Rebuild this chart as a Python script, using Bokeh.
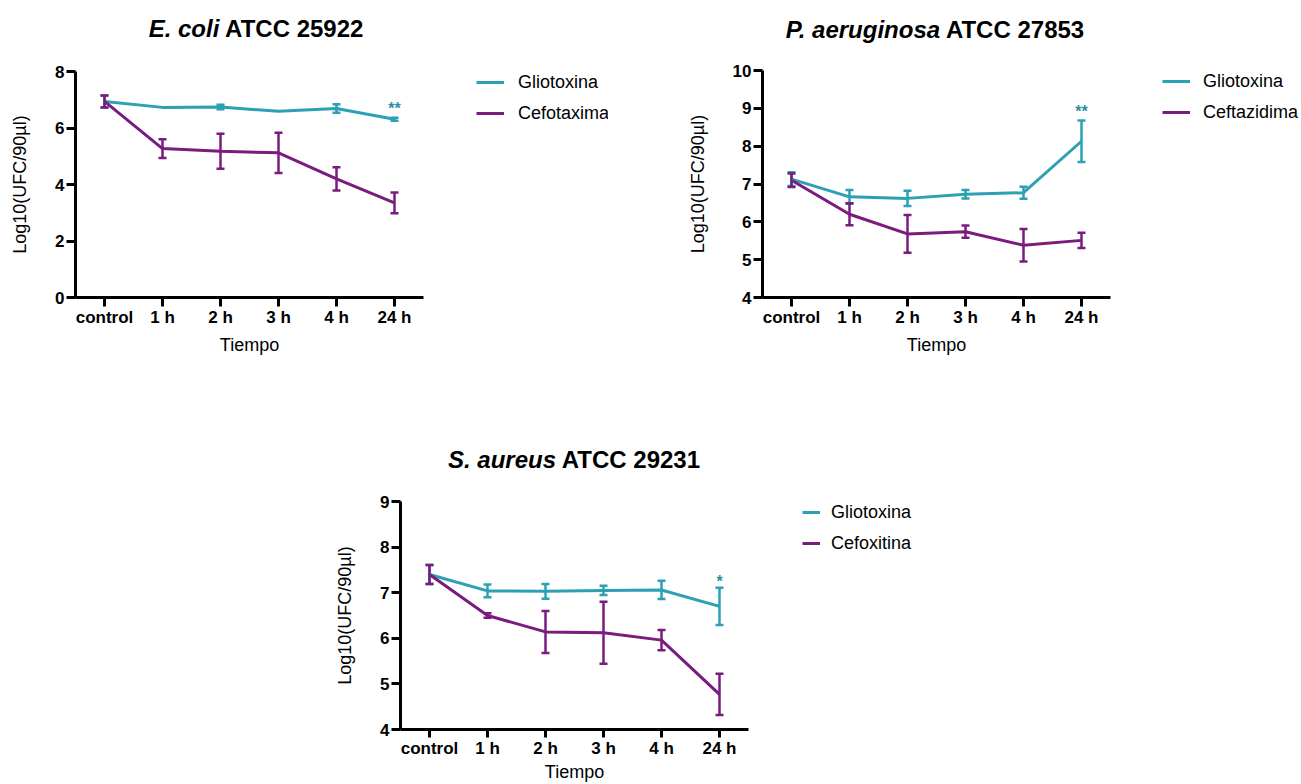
from bokeh.plotting import figure
from bokeh.models import (ColumnDataSource, Whisker, TeeHead, Legend, LegendItem,
                          FactorRange, Range1d, Spacer, FixedTicker, Div)
from bokeh.layouts import column, row
from bokeh.embed import file_html
from bokeh.resources import INLINE
from bokeh.core.properties import value

# ---------------- data ----------------
times = ["control", "1 h", "2 h", "3 h", "4 h", "24 h"]

ecoli_glio = [6.94, 6.73, 6.74, 6.59, 6.69, 6.31]
ecoli_glio_err = [0.21, 0.0, 0.08, 0.0, 0.15, 0.05]
ecoli_cefo = [6.94, 5.27, 5.18, 5.12, 4.20, 3.35]
ecoli_cefo_err = [0.21, 0.33, 0.62, 0.71, 0.41, 0.37]

paer_glio = [7.13, 6.66, 6.62, 6.73, 6.77, 8.13]
paer_glio_err = [0.18, 0.18, 0.20, 0.11, 0.16, 0.55]
paer_ceft = [7.10, 6.20, 5.68, 5.74, 5.38, 5.51]
paer_ceft_err = [0.18, 0.29, 0.50, 0.16, 0.43, 0.20]

saur_glio = [7.40, 7.04, 7.03, 7.05, 7.06, 6.70]
saur_glio_err = [0.21, 0.14, 0.16, 0.10, 0.20, 0.41]
saur_cefx = [7.40, 6.50, 6.14, 6.12, 5.96, 4.77]
saur_cefx_err = [0.21, 0.05, 0.46, 0.68, 0.22, 0.45]

titles_it = ["E. coli", "P. aeruginosa", "S. aureus"]
titles_bd = ["ATCC 25922", "ATCC 27853", "ATCC 29231"]
stars = ["**", "**", "*"]
star_y = [7.0, 9.16, 7.45]

TEAL = "#2ba1b3"
PURPLE = "#7a1b7e"
FONT = "Liberation Sans"


def title_div(it, bd, width, height, cx, cy):
    html = (f'<div style="width:{2 * cx}px;text-align:center;margin-top:{cy - 14}px;'
            f'line-height:28px;height:28px;white-space:nowrap;font-family:\'{FONT}\';'
            f'font-size:24px;font-weight:bold;color:black;">'
            f'<i>{it}</i> {bd}</div>')
    return Div(text=html, width=width, height=height, margin=(0, 0, 0, 0))


def make_panel(ymin, ymax, ystep, series, star, stary,
               width, height, b_left, b_right, b_top, b_bottom,
               xlab_standoff=5, xtick_out=9):
    p = figure(x_range=FactorRange(*times), y_range=Range1d(ymin, ymax),
               width=width, height=height, output_backend="svg",
               toolbar_location=None, min_border_left=b_left,
               min_border_right=b_right, min_border_top=b_top,
               min_border_bottom=b_bottom, margin=(0, 0, 0, 0))
    p.outline_line_color = None
    p.grid.visible = False

    p.yaxis.ticker = FixedTicker(ticks=list(range(ymin, ymax + 1, ystep)))
    for ax in (p.xaxis[0], p.yaxis[0]):
        ax.axis_line_width = 3
        ax.axis_line_color = "black"
        ax.major_tick_line_width = 3
        ax.major_tick_line_color = "black"
        ax.major_tick_in = 0
        ax.minor_tick_line_color = None
        ax.major_label_text_font = FONT
        ax.major_label_text_font_style = "bold"
        ax.major_label_text_font_size = "17px"
        ax.major_label_text_color = "black"
        ax.axis_label_text_font = FONT
        ax.axis_label_text_font_style = "normal"
        ax.axis_label_text_font_size = "18px"
        ax.axis_label_text_color = "black"
    p.yaxis.major_tick_out = 9
    p.yaxis.major_label_standoff = 2
    p.yaxis.axis_label_standoff = 22
    p.yaxis.axis_label = "Log10(UFC/90\u00b5l)"
    p.xaxis.major_tick_out = xtick_out
    p.xaxis.major_label_standoff = 1
    p.xaxis.axis_label_standoff = xlab_standoff
    p.xaxis.axis_label = "Tiempo"

    for name, vals, errs, col in series:
        p.line(x=times, y=vals, line_color=col, line_width=3)
        bx, up, lo = [], [], []
        for t, v, e in zip(times, vals, errs):
            if e > 0:
                bx.append(t)
                up.append(v + e)
                lo.append(v - e)
        src = ColumnDataSource(dict(base=bx, upper=up, lower=lo))
        w = Whisker(base="base", upper="upper", lower="lower", source=src,
                    line_color=col, line_width=2.5, level="glyph",
                    upper_head=TeeHead(size=8, line_color=col, line_width=2.5),
                    lower_head=TeeHead(size=8, line_color=col, line_width=2.5))
        p.add_layout(w)

    p.text(x=[times[-1]], y=[stary], text=[star], text_color="#2a8fa3",
           text_font=value(FONT), text_font_style="bold", text_font_size="16px",
           text_align="center", text_baseline="alphabetic", y_offset=9)
    return p


def make_legend(series, width, height, dx, cy_first, glyph_w, lab_off):
    row_h = 22
    spacing = 9
    top = int(round(cy_first - row_h / 2))
    q = figure(width=width, height=height, output_backend="svg",
               toolbar_location=None, x_range=Range1d(0, 1), y_range=Range1d(0, 1),
               x_axis_location=None, y_axis_location=None,
               min_border_left=dx, min_border_top=top, min_border_right=0,
               min_border_bottom=0, margin=(0, 0, 0, 0))
    q.outline_line_color = None
    q.grid.visible = False
    items = []
    nan = float("nan")
    for name, col in series:
        # placeholder renderer (draws nothing) that only carries the legend style
        r = q.line(x=[nan], y=[nan], line_color=col, line_width=3)
        items.append(LegendItem(label=name, renderers=[r]))
    legend = Legend(items=items, location="top_left",
                    glyph_width=glyph_w, glyph_height=row_h, label_height=row_h,
                    spacing=spacing, padding=0, margin=0,
                    label_standoff=lab_off, border_line_color=None,
                    background_fill_alpha=0, label_text_font=FONT,
                    label_text_font_size="18px", label_text_color="black")
    q.add_layout(legend)
    return q


s1 = [("Gliotoxina", ecoli_glio, ecoli_glio_err, TEAL),
      ("Cefotaxima", ecoli_cefo, ecoli_cefo_err, PURPLE)]
s2 = [("Gliotoxina", paer_glio, paer_glio_err, TEAL),
      ("Ceftazidima", paer_ceft, paer_ceft_err, PURPLE)]
s3 = [("Gliotoxina", saur_glio, saur_glio_err, TEAL),
      ("Cefoxitina", saur_cefx, saur_cefx_err, PURPLE)]

p1 = make_panel(0, 8, 2, s1, stars[0], star_y[0], width=433, height=386,
                b_left=75, b_right=10, b_top=21, b_bottom=133)
l1 = make_legend([(s[0], s[3]) for s in s1], 175, 386, 43, 37.7, 28, 14)

p2 = make_panel(4, 10, 1, s2, stars[1], star_y[1], width=512, height=386,
                b_left=154, b_right=10, b_top=21, b_bottom=133)
l2 = make_legend([(s[0], s[3]) for s in s2], 180, 386, 42, 36.7, 28, 13)

p3 = make_panel(4, 9, 1, s3, stars[2], star_y[2], width=450, height=310,
                b_left=92, b_right=10, b_top=23, b_bottom=55,
                xlab_standoff=1, xtick_out=8)
l3 = make_legend([(s[0], s[3]) for s in s3], 230, 310, 44, 38.3, 18, 11)

d1 = title_div(titles_it[0], titles_bd[0], 608, 44, 256, 29)
d2 = title_div(titles_it[1], titles_bd[1], 692, 44, 327, 30)
d3 = title_div(titles_it[2], titles_bd[2], 680, 44, 266, 30)

layout = column(row(column(d1, row(p1, l1)), column(d2, row(p2, l2))),
                row(Spacer(width=308, height=354), column(d3, row(p3, l3))))

with open("out.html", "w") as f:
    f.write(file_html(layout, INLINE))
